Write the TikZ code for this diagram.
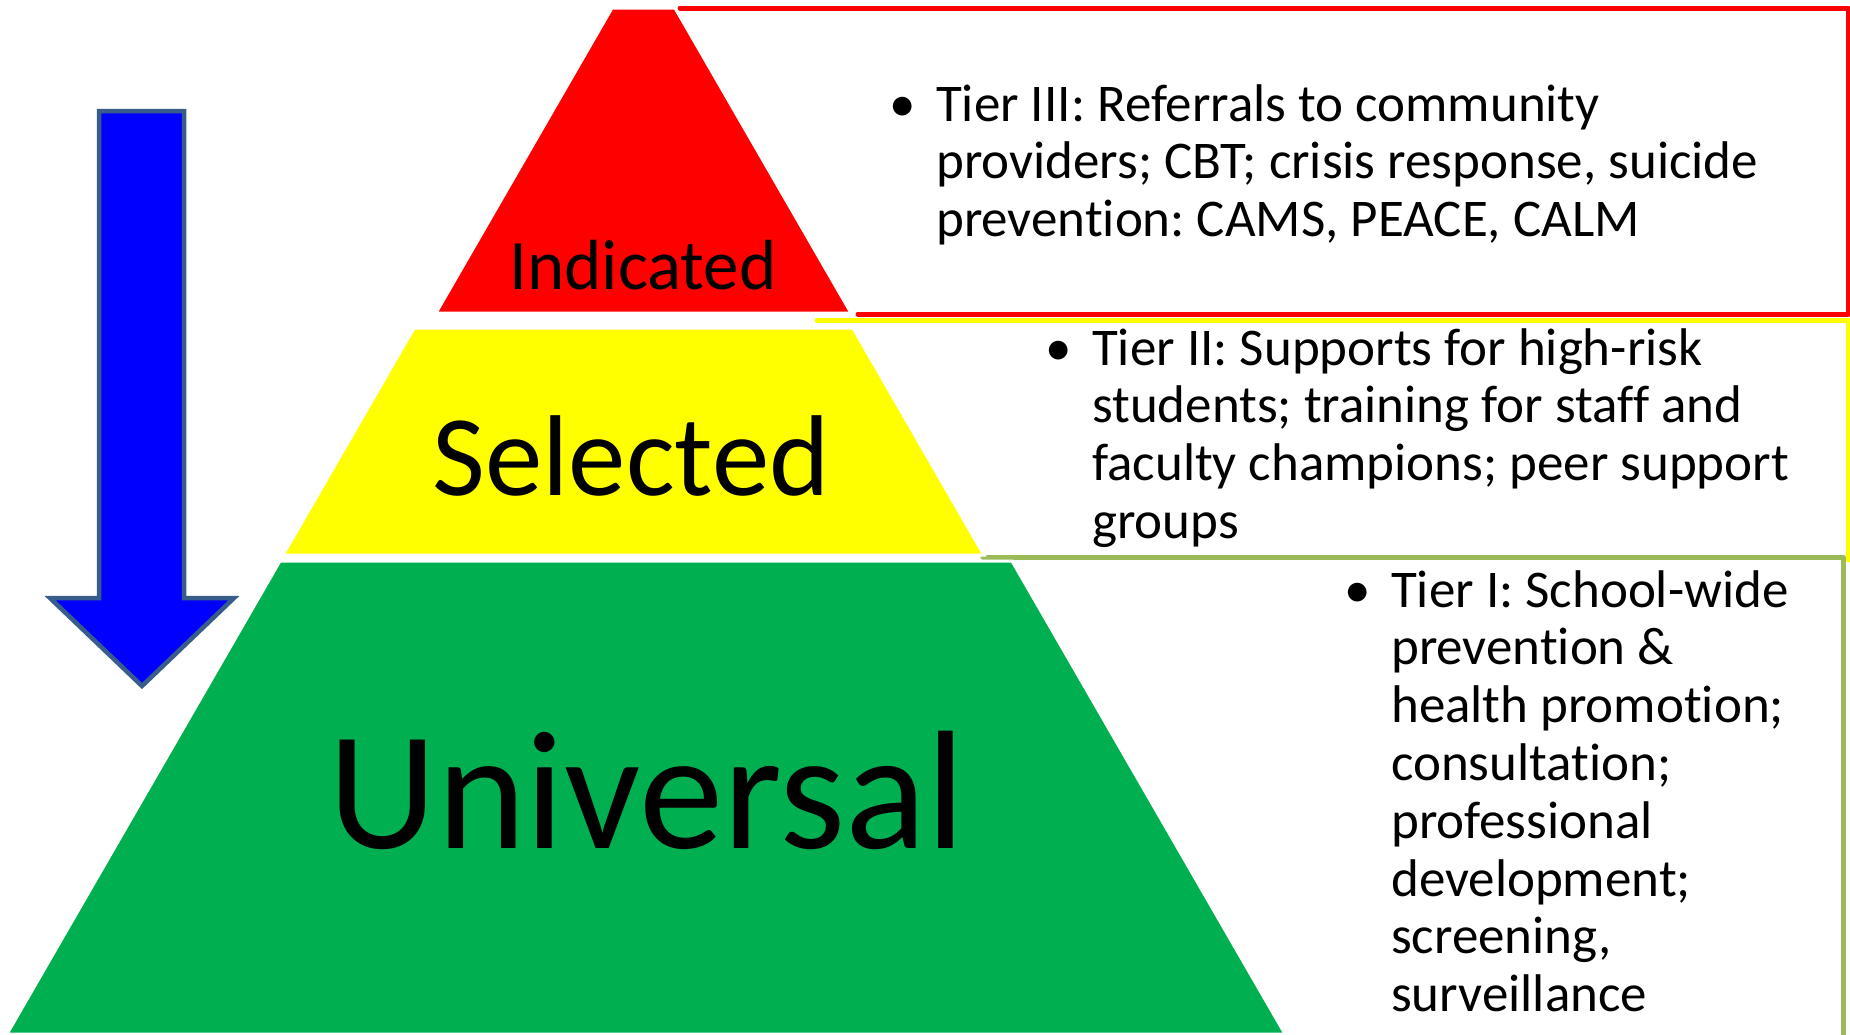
\documentclass[tikz,border=0pt]{standalone}
\usepackage{fontspec}
\setmainfont{Carlito}[Ligatures=NoCommon]
\usepackage{xcolor}
\frenchspacing

\definecolor{tierred}{HTML}{FF0000}
\definecolor{tieryellow}{HTML}{FFFF00}
\definecolor{tiergreen}{HTML}{00B050}
\definecolor{tierolive}{HTML}{9BBB59}
\definecolor{arrowblue}{HTML}{0000FF}
\definecolor{arrowedge}{HTML}{385D8A}

% bullet hung to the left of a left-aligned block of lines
\newcommand{\tieritem}[1]{%
    \llap{\makebox[68pt]{\textbullet}}%
    \begin{tabular}[t]{@{}l@{}}#1\end{tabular}}

\begin{document}
\begin{tikzpicture}[
    x=1pt, y=-1pt,
    tierbox/.style={
        draw,
        line width=5pt,
        line join=round,
        line cap=round
    },
    tierblock/.style={
        draw=white,
        line width=3pt
    },
    tierlabel/.style={
        anchor=base,
        inner sep=0pt
    },
    bullettext/.style={
        anchor=base west,
        inner sep=0pt,
        font=\fontsize{53}{57.8}\selectfont
    }
]

\useasboundingbox (0,0) rectangle (1850,1034);
\clip (0,0) rectangle (1850,1034);

% outlined boxes behind the pyramid (only the edges left showing)
\draw[tierbox, draw=tierred] (680,8) -- (1848,8) -- (1848,314) -- (858,314);
\draw[tierbox, draw=tieryellow] (817,320) -- (1848,320) -- (1848,560);
\draw[tierbox, draw=tierolive] (983,557) -- (1843,557) -- (1843,1040);

% pyramid, top to bottom
\filldraw[tierblock, fill=tierred]
    (612,8) -- (675,8) -- (851,313) -- (436,313) -- cycle;
\filldraw[tierblock, fill=tieryellow]
    (414,328) -- (853,328) -- (984,555) -- (283,555) -- cycle;
\filldraw[tierblock, fill=tiergreen]
    (280,561) -- (1012,561) -- (1285,1034) -- (7,1034) -- cycle;

\node[tierlabel, font=\fontsize{71}{85}\selectfont] (indicated) at (643,289) {Indicated};
\node[tierlabel, font=\fontsize{115}{137}\selectfont] (selected) at (631,495) {Selected};
\node[tierlabel, font=\fontsize{169}{200}\selectfont] (universal) at (647,848) {Universal};

% downward arrow
\filldraw[fill=arrowblue, draw=arrowedge, line width=4.5pt]
    (99,111) -- (184,111) -- (184,598) -- (234,598) -- (142,686)
    -- (50,598) -- (99,598) -- cycle;

\node[bullettext] (tierthree) at (936,121) {\tieritem{%
    Tier III: Referrals to community\\
    providers; CBT; crisis response, suicide\\
    prevention: CAMS, PEACE, CALM}};

\node[bullettext] (tiertwo) at (1092,365) {\tieritem{%
    Tier II: Supports for high-risk\\
    students; training for staff and\\
    faculty champions; peer support\\
    groups}};

\node[bullettext] (tierone) at (1391,607) {\tieritem{%
    Tier I: School-wide\\
    prevention \&\\
    health promotion;\\
    consultation;\\
    professional\\
    development;\\
    screening,\\
    surveillance}};

\end{tikzpicture}
\end{document}
